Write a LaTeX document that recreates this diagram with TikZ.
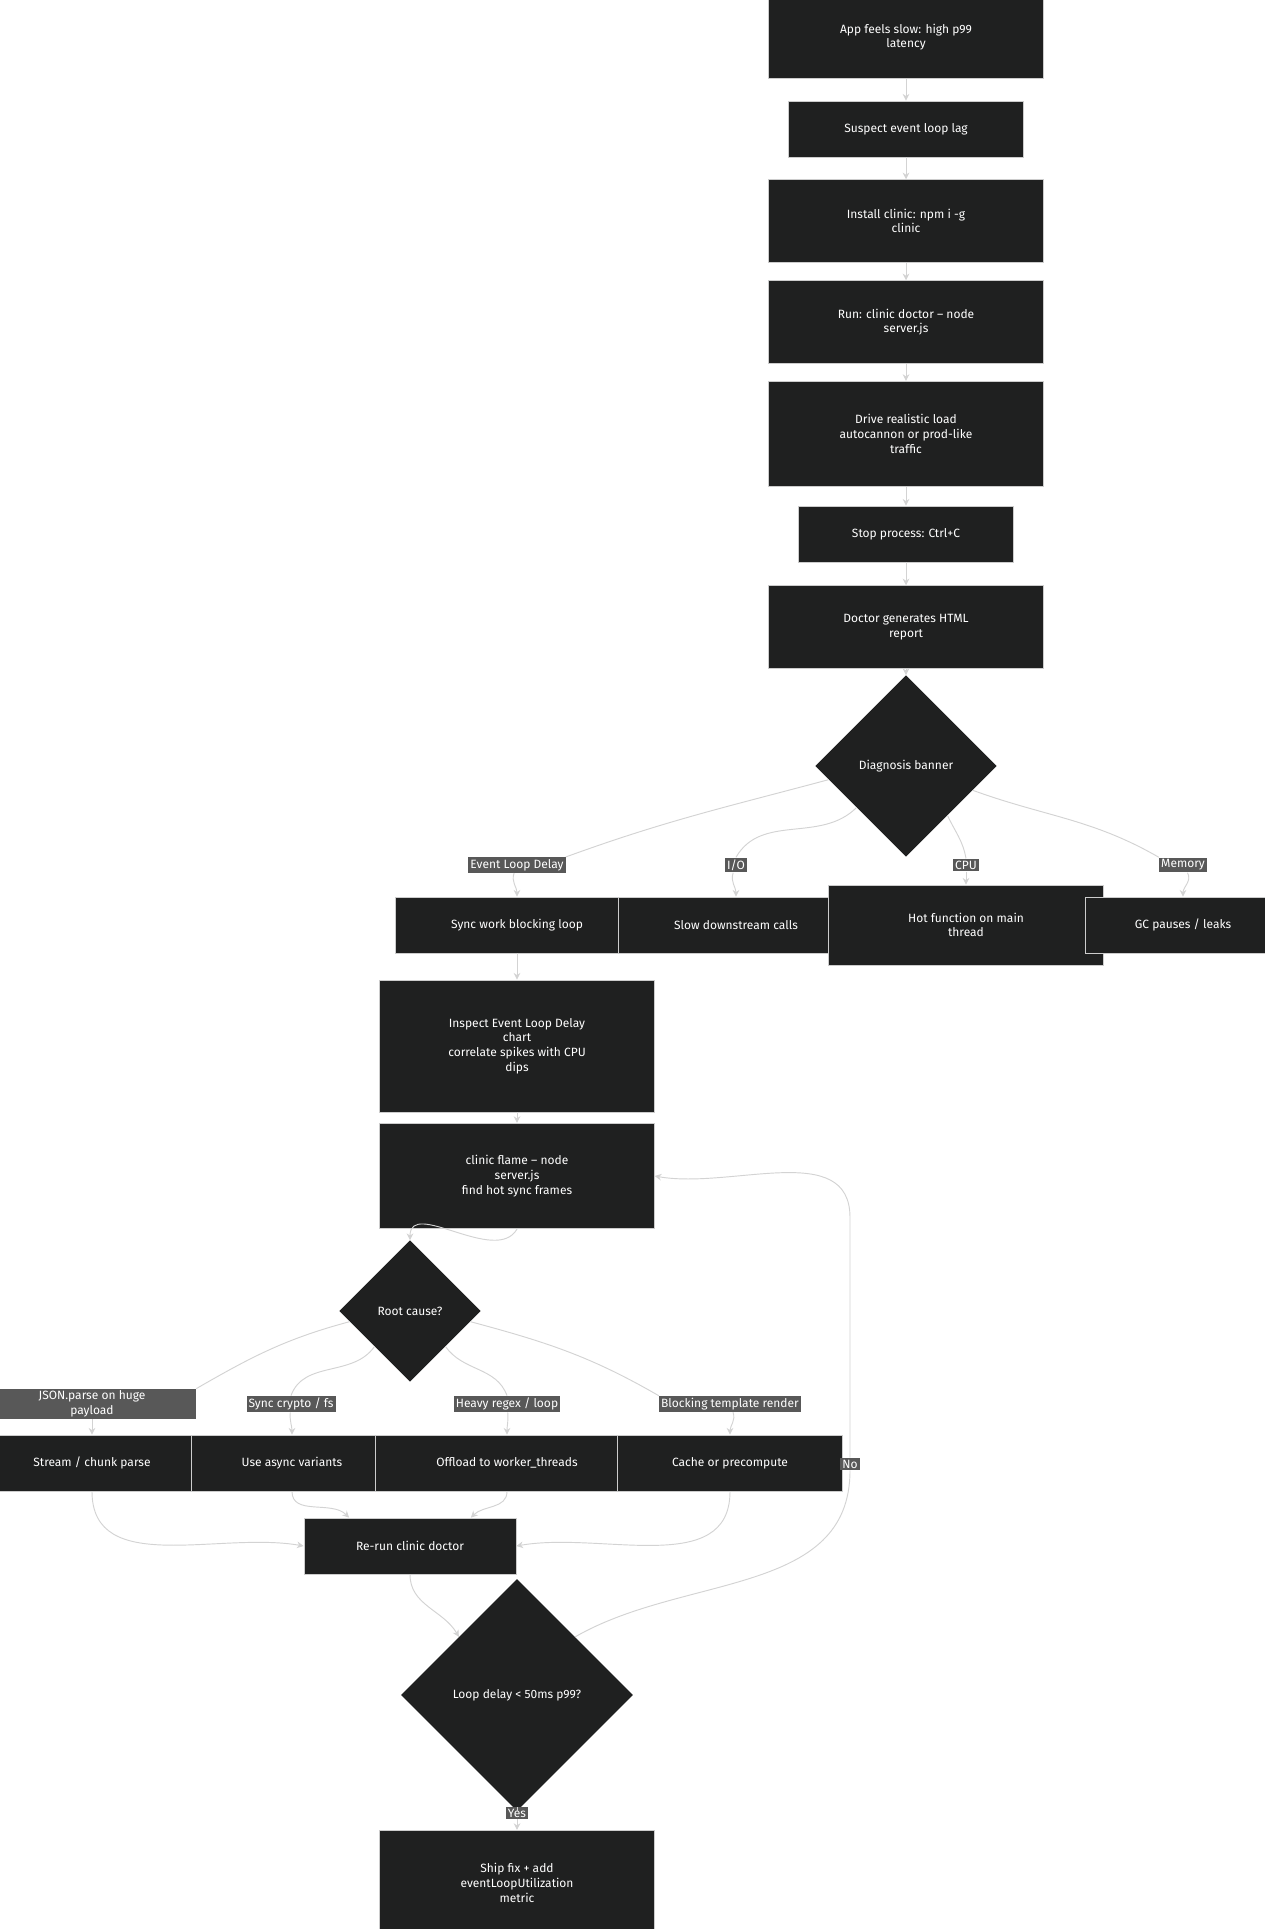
\documentclass[tikz,border=0pt]{standalone}
\usepackage{fontspec}
\setmainfont{Fira Sans}
\usetikzlibrary{shapes.geometric,arrows.meta}

\definecolor{boxfill}{HTML}{1F2020}
\definecolor{boxline}{HTML}{CCCCCC}
\definecolor{edgecol}{HTML}{D3D3D3}
\definecolor{lblfill}{HTML}{585858}

\tikzset{
  box/.style={draw=boxline,line width=0.6pt,fill=boxfill,text=white,font=\small,align=center,inner sep=0pt},
  choice/.style={diamond,aspect=1,fill=boxfill,text=white,font=\small,align=center,inner sep=0pt},
  tag/.style={fill=lblfill,text=white,font=\small,align=center,inner sep=1.5pt},
  flow/.style={draw=edgecol,line width=0.7pt,-{Stealth[length=5pt,width=5pt]}},
  link/.style={draw=edgecol,line width=0.7pt},
}

\begin{document}
\begin{tikzpicture}[x=0.75pt,y=-0.75pt]
\useasboundingbox[fill=white] (0,0) rectangle (1264,1929);

% main column
\node[box,minimum width=206,minimum height=62] (slow) at (906,37) {App feels slow: high p99\\latency};
\node[box,minimum width=176,minimum height=42] (suspect) at (906,129) {Suspect event loop lag};
\node[box,minimum width=206,minimum height=62] (install) at (906,221) {Install clinic: npm i -g\\clinic};
\node[box,minimum width=206,minimum height=62] (run) at (906,322) {Run: clinic doctor -- node\\server.js};
\node[box,minimum width=206,minimum height=79] (load) at (906,434) {Drive realistic load\\autocannon or prod-like\\traffic};
\node[box,minimum width=161,minimum height=42] (stop) at (906,534) {Stop process: Ctrl+C};
\node[box,minimum width=206,minimum height=62] (report) at (906,627) {Doctor generates HTML\\report};
\node[choice,minimum size=136] (banner) at (906,766) {Diagnosis banner};

% banner branches
\node[tag] (tELD) at (517,865) {Event Loop Delay};
\node[tag] (tIO) at (736,865) {I/O};
\node[tag] (tCPU) at (966,865) {CPU};
\node[tag] (tMem) at (1183,865) {Memory};
\node[box,minimum width=182,minimum height=42] (sync) at (517,925) {Sync work blocking loop};
\node[box,minimum width=176,minimum height=42] (down) at (736,925) {Slow downstream calls};
\node[box,minimum width=206,minimum height=60] (hot) at (966,925) {Hot function on main\\thread};
\node[box,minimum width=147,minimum height=42] (gc) at (1183,925) {GC pauses / leaks};

\node[box,minimum width=206,minimum height=99] (inspect) at (517,1046) {Inspect Event Loop Delay\\chart\\correlate spikes with CPU\\dips};
\node[box,minimum width=206,minimum height=79] (flame) at (517,1176) {clinic flame -- node\\server.js\\find hot sync frames};
\node[choice,minimum size=106] (cause) at (410,1311) {Root cause?};

% root cause branches
\node[tag,minimum width=156] (tJSON) at (92,1404) {JSON.parse on huge\\payload};
\node[tag] (tCrypto) at (291,1404) {Sync crypto / fs};
\node[tag] (tRegex) at (507,1404) {Heavy regex / loop};
\node[tag] (tTpl) at (730,1404) {Blocking template render};
\node[box,minimum width=167,minimum height=42] (stream) at (92,1463) {Stream / chunk parse};
\node[box,minimum width=151,minimum height=42] (async) at (292,1463) {Use async variants};
\node[box,minimum width=197,minimum height=42] (offload) at (507,1463) {Offload to worker\_threads};
\node[box,minimum width=169,minimum height=42] (cache) at (730,1463) {Cache or precompute};

\node[box,minimum width=159,minimum height=42] (rerun) at (410,1546) {Re-run clinic doctor};
\node[choice,minimum size=174] (check) at (517,1695) {Loop delay \textless{} 50ms p99?};
\node[tag] (tYes) at (517,1813) {Yes};
\node[box,minimum width=206,minimum height=79] (ship) at (517,1883) {Ship fix + add\\eventLoopUtilization\\metric};
\node[tag] (tNo) at (850,1464) {No};

% connectors
\draw[flow] (slow) -- (suspect);
\draw[flow] (suspect) -- (install);
\draw[flow] (install) -- (run);
\draw[flow] (run) -- (load);
\draw[flow] (load) -- (stop);
\draw[flow] (stop) -- (report);
\draw[flow] (report) -- (banner);

\draw[link] (banner.190) to[out=195,in=20] (tELD.north east);
\draw[flow] (tELD) to[out=-110,in=90] (sync);
\draw[link] (banner.220) to[out=225,in=60] (tIO.north);
\draw[flow] (tIO) to[out=-110,in=90] (down);
\draw[link] (banner.310) to[out=-65,in=100] (tCPU.north);
\draw[flow] (tCPU) -- (hot);
\draw[link] (banner.340) to[out=-20,in=150] (tMem.north west);
\draw[flow] (tMem) to[out=-60,in=90] (gc);

\draw[flow] (sync) -- (inspect);
\draw[flow] (inspect) -- (flame);
\draw[flow] (flame.south) to[out=-120,in=90] (cause.north);

\draw[link] (cause.190) to[out=195,in=30] (tJSON.north east);
\draw[flow] (tJSON) -- (stream);
\draw[link] (cause.225) to[out=235,in=70] (tCrypto.north);
\draw[flow] (tCrypto) to[out=-95,in=90] (async);
\draw[link] (cause.315) to[out=-55,in=110] (tRegex.north);
\draw[flow] (tRegex) to[out=-85,in=90] (offload);
\draw[link] (cause.350) to[out=-15,in=150] (tTpl.north west);
\draw[flow] (tTpl) to[out=-70,in=90] (cache);

\draw[flow] (stream.south) to[out=-90,in=170] (rerun.west);
\draw[flow] (async.south) to[out=-90,in=135] (rerun.155);
\draw[flow] (offload.south) to[out=-90,in=45] (rerun.25);
\draw[flow] (cache.south) to[out=-90,in=10] (rerun.east);

\draw[flow] (rerun.south) to[out=-90,in=120] (check.north west);
\draw[link] (check.north east) to[out=30,in=-90] (tNo.south);
\draw[flow] (tNo.north) -- ++(0,-240) to[out=90,in=-10] (flame.east);
\draw[link] (check.south) -- (tYes);
\draw[flow] (tYes) -- (ship);
\end{tikzpicture}
\end{document}
